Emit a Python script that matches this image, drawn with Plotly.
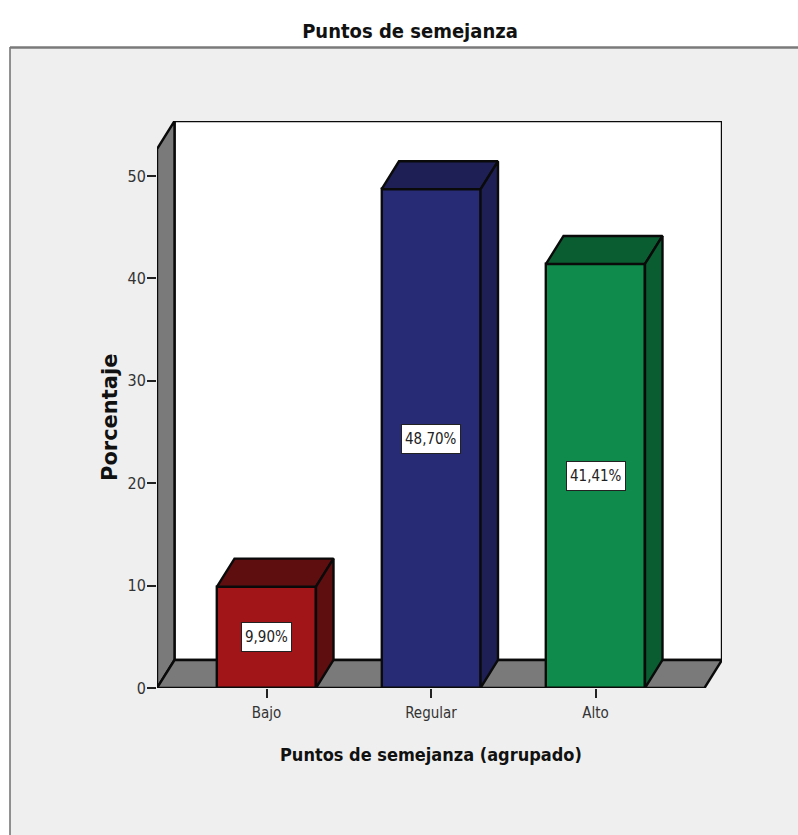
import plotly.graph_objects as go

W, H = 798, 835

# Data
categories = ["Bajo", "Regular", "Alto"]
percentages = [9.90, 48.70, 41.41]
value_labels = ["9,90%", "48,70%", "41,41%"]
y_ticks = [0, 10, 20, 30, 40, 50]

# Styling
front_colors = ["#A11519", "#272A75", "#0F8C4B"]
top_colors = ["#5F0E10", "#1D1F55", "#0A5C31"]
side_colors = ["#5F0E10", "#1D1F55", "#0A5C31"]
WALL = "#7A7A7A"
PANEL = "#EFEFEF"
EDGE = "#0A0A0A"
EDGE_W = 2.4
NARROW = "DejaVu Sans Condensed, Liberation Sans, sans-serif"
WIDE_BOLD = "DejaVu Sans, Liberation Sans, sans-serif"

# Plot box in pixels and the oblique depth of the fake 3D view
PX_L, PX_R, PX_T, PX_B = 157.0, 722.0, 121.0, 688.0
PX_PER_UNIT_Y = 10.24
PX_PER_CAT = 164.5
PX_CAT0 = 266.5
x_min = (PX_L - PX_CAT0) / PX_PER_CAT
x_max = (PX_R - PX_CAT0) / PX_PER_CAT
y_max = (PX_B - PX_T) / PX_PER_UNIT_Y
DX = 17.5 / PX_PER_CAT
DY = 28.0 / PX_PER_UNIT_Y
BAR_W = 99.0 / PX_PER_CAT

fig = go.Figure()

# Front faces of the bars
fig.add_trace(go.Bar(
    x=list(range(len(categories))), y=percentages, width=BAR_W,
    marker=dict(color=front_colors, line=dict(color=EDGE, width=EDGE_W)),
    hoverinfo="skip", showlegend=False,
))

# Top and side faces of each bar
for i, v in enumerate(percentages):
    l, r = i - BAR_W / 2, i + BAR_W / 2
    fig.add_trace(go.Scatter(
        x=[l, l + DX, r + DX, r, l], y=[v, v + DY, v + DY, v, v],
        mode="lines", fill="toself", fillcolor=top_colors[i],
        line=dict(color=EDGE, width=EDGE_W), hoverinfo="skip", showlegend=False,
    ))
    fig.add_trace(go.Scatter(
        x=[r, r + DX, r + DX, r, r], y=[0, DY, v + DY, v, 0],
        mode="lines", fill="toself", fillcolor=side_colors[i],
        line=dict(color=EDGE, width=EDGE_W), hoverinfo="skip", showlegend=False,
    ))


def poly(xs, ys):
    pts = [f"{x:.4f},{y:.4f}" for x, y in zip(xs, ys)]
    return "M" + " L".join(pts) + " Z"


shapes = [
    # Chart panel with its grey left and top edges
    dict(type="rect", xref="paper", yref="paper", layer="below",
         x0=10 / W, x1=1.01, y0=-0.01, y1=1 - 47 / H,
         fillcolor=PANEL, line=dict(width=0)),
    dict(type="line", xref="paper", yref="paper", layer="below",
         x0=10 / W, x1=10 / W, y0=0, y1=1 - 47 / H,
         line=dict(color="#6E6E6E", width=1.5)),
    dict(type="line", xref="paper", yref="paper", layer="below",
         x0=10 / W, x1=1, y0=1 - 47.5 / H, y1=1 - 47.5 / H,
         line=dict(color="#7A7A7A", width=2.5)),
    # Back wall
    dict(type="path", layer="below", xref="x", yref="y",
         path=poly([x_min + DX, x_max, x_max, x_min + DX], [DY, DY, y_max, y_max]),
         fillcolor="white", line=dict(color=EDGE, width=EDGE_W)),
    # Left wall
    dict(type="path", layer="below", xref="x", yref="y",
         path=poly([x_min, x_min + DX, x_min + DX, x_min], [0, DY, y_max, y_max - DY]),
         fillcolor=WALL, line=dict(color=EDGE, width=EDGE_W)),
    # Floor
    dict(type="path", layer="below", xref="x", yref="y",
         path=poly([x_min, x_max - DX, x_max, x_min + DX], [0, 0, DY, DY]),
         fillcolor=WALL, line=dict(color=EDGE, width=EDGE_W)),
]

annotations = [
    dict(x=i, y=v / 2, xref="x", yref="y", text=value_labels[i], showarrow=False,
         height=22, bgcolor="white", bordercolor="#222222", borderwidth=1, borderpad=3,
         font=dict(family=NARROW, size=15, color="#222222"))
    for i, v in enumerate(percentages)
]
annotations += [
    dict(x=110 / W, y=1 - 418 / H, xref="paper", yref="paper", text="<b>Porcentaje</b>",
         xanchor="center", yanchor="middle", textangle=-90, showarrow=False,
         font=dict(family=WIDE_BOLD, size=21, color="#111111")),
    dict(x=431 / W, y=1 - 754 / H, xref="paper", yref="paper",
         xanchor="center", yanchor="middle",
         text="<b>Puntos de semejanza (agrupado)</b>", showarrow=False,
         font=dict(family=NARROW, size=18, color="#111111")),
]

fig.update_layout(
    width=W, height=H, autosize=False,
    margin=dict(l=0, r=0, t=0, b=0, autoexpand=False),
    paper_bgcolor="white", plot_bgcolor="rgba(0,0,0,0)",
    title=dict(text="<b>Puntos de semejanza</b>", x=410 / W, xanchor="center",
               y=1 - 31 / H, yanchor="middle",
               font=dict(family=NARROW, size=20, color="#111111")),
    shapes=shapes, annotations=annotations, showlegend=False, bargap=0,
    xaxis=dict(domain=[PX_L / W, PX_R / W], range=[x_min, x_max],
               tickmode="array", tickvals=list(range(len(categories))), ticktext=categories,
               ticks="outside", ticklen=9, tickwidth=1.5, tickcolor="#222222",
               ticklabelstandoff=2,
               showgrid=False, zeroline=False, showline=False,
               tickfont=dict(family=NARROW, size=15, color="#333333")),
    yaxis=dict(domain=[1 - PX_B / H, 1 - PX_T / H], range=[0, y_max],
               tickmode="array", tickvals=y_ticks,
               ticks="outside", ticklen=9, tickwidth=1.5, tickcolor="#222222",
               ticklabelstandoff=-2,
               showgrid=False, zeroline=False, showline=False,
               tickfont=dict(family=NARROW, size=16, color="#333333")),
)

fig.write_html("out.html", config={"displayModeBar": False})
